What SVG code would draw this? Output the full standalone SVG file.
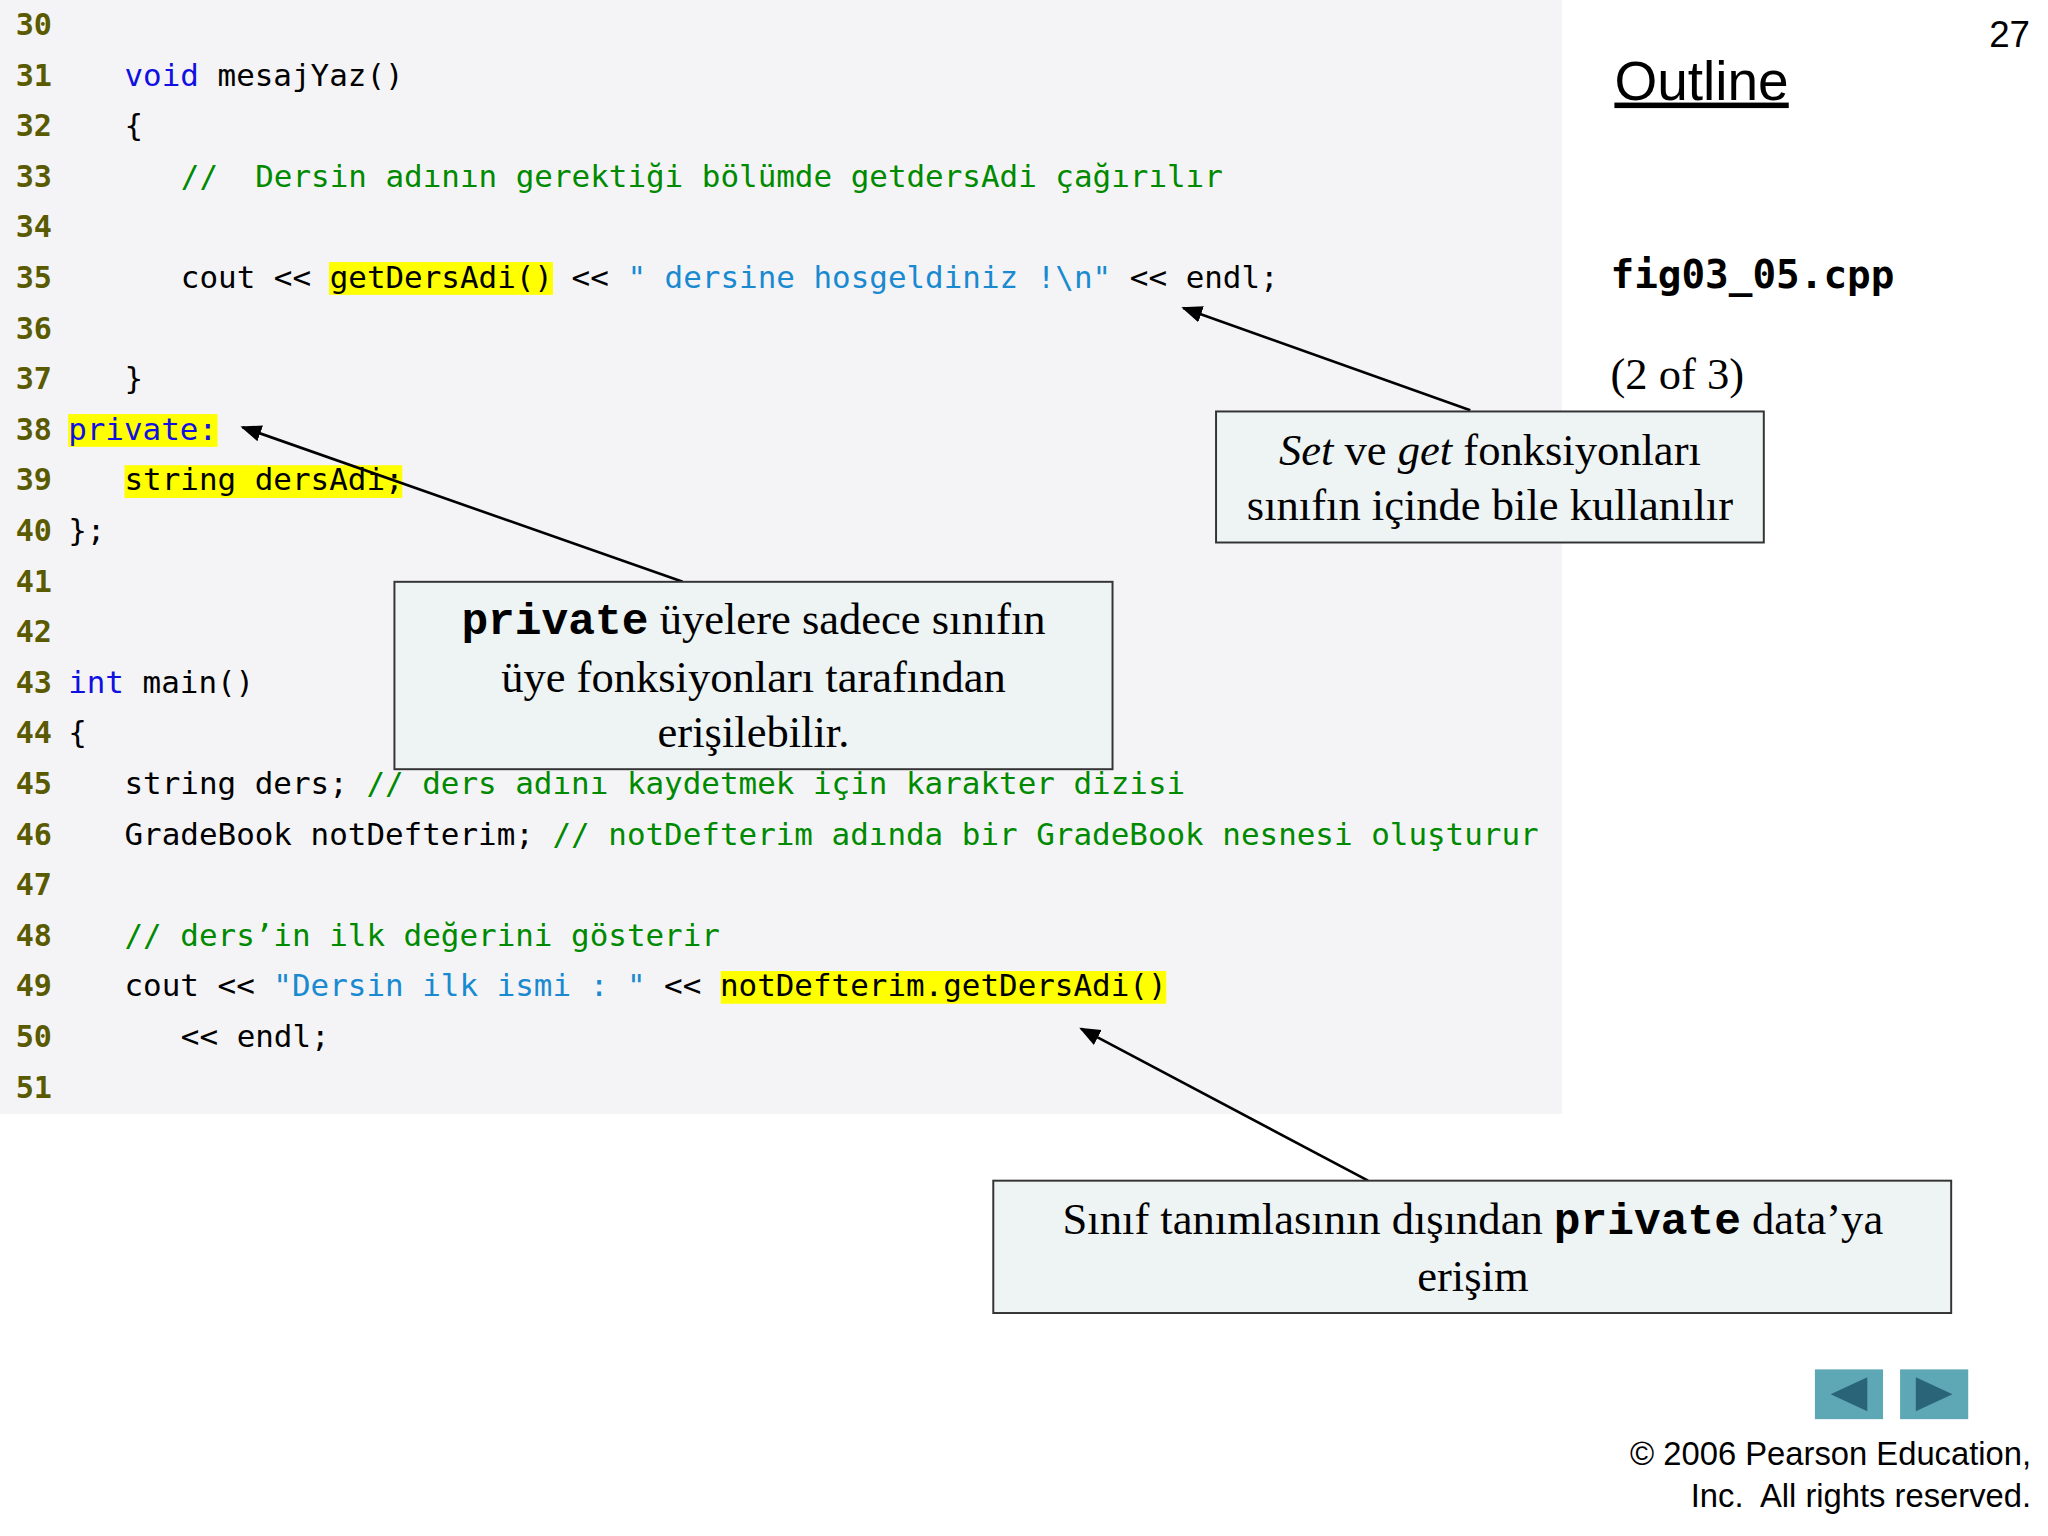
<svg xmlns="http://www.w3.org/2000/svg" width="2048" height="1536" viewBox="0 0 2048 1536">
<style>
.ln{font-family:"DejaVu Sans Mono",monospace;font-size:23px;fill:#5a5a00;font-weight:bold}
.c{font-family:"DejaVu Sans Mono",monospace;font-size:23.6px;fill:#000}
.kw{fill:#1010e0}.cm{fill:#008a00}.st{fill:#1a8ad0}
.hl{fill:#ffff00}
.box{fill:#eef3f3;stroke:#333;stroke-width:1.5}
.bt{font-family:"Liberation Serif",serif;font-size:34px;text-anchor:middle;fill:#000}
.cb{font-family:"Liberation Mono",monospace;font-weight:bold}
.ar{stroke:#000;stroke-width:2;fill:none}
</style>
<defs><marker id="ah" viewBox="0 0 10 10" refX="9" refY="5" markerWidth="8" markerHeight="8" orient="auto"><path d="M0,1 L10,5 L0,9 z" fill="#000"/></marker></defs>
<rect width="2048" height="1536" fill="#fff"/>
<g transform="scale(1.3104)">
<g id="code">
<rect x="0" y="0" width="1192" height="850" fill="#f4f4f7"/>
<rect class="hl" x="251" y="200" width="171" height="25"/>
<rect class="hl" x="52" y="316" width="114" height="25"/>
<rect class="hl" x="95" y="355" width="212" height="25"/>
<rect class="hl" x="550" y="741" width="340" height="25"/>
<g class="ln">
<text x="12" y="27">30</text><text x="12" y="66">31</text><text x="12" y="104">32</text><text x="12" y="143">33</text><text x="12" y="181">34</text><text x="12" y="220">35</text><text x="12" y="259">36</text><text x="12" y="297">37</text><text x="12" y="336">38</text><text x="12" y="374">39</text><text x="12" y="413">40</text><text x="12" y="452">41</text><text x="12" y="490">42</text><text x="12" y="529">43</text><text x="12" y="567">44</text><text x="12" y="606">45</text><text x="12" y="645">46</text><text x="12" y="683">47</text><text x="12" y="722">48</text><text x="12" y="760">49</text><text x="12" y="799">50</text><text x="12" y="838">51</text>
</g>
<g class="c">
<text x="95" y="66"><tspan class="kw">void</tspan> mesajYaz()</text>
<text x="95" y="104">{</text>
<text x="138" y="143" class="cm" xml:space="preserve">//  Dersin adının gerektiği bölümde getdersAdi çağırılır</text>
<text x="138" y="220">cout &lt;&lt; getDersAdi() &lt;&lt; <tspan class="st">" dersine hosgeldiniz !\n"</tspan> &lt;&lt; endl;</text>
<text x="95" y="297">}</text>
<text x="52" y="336" class="kw">private:</text>
<text x="95" y="374">string dersAdi;</text>
<text x="52" y="413">};</text>
<text x="52" y="529"><tspan class="kw">int</tspan> main()</text>
<text x="52" y="567">{</text>
<text x="95" y="606">string ders; <tspan class="cm">// ders adını kaydetmek için karakter dizisi</tspan></text>
<text x="95" y="645">GradeBook notDefterim; <tspan class="cm">// notDefterim adında bir GradeBook nesnesi oluşturur</tspan></text>
<text x="95" y="722" class="cm">// ders’in ilk değerini gösterir</text>
<text x="95" y="760">cout &lt;&lt; <tspan class="st">"Dersin ilk ismi : "</tspan> &lt;&lt; notDefterim.getDersAdi()</text>
<text x="138" y="799">&lt;&lt; endl;</text>
</g>
</g>
<g id="connectors">
<line class="ar" x1="1122" y1="313" x2="903" y2="235" marker-end="url(#ah)"/>
<line class="ar" x1="521" y1="444" x2="185" y2="326" marker-end="url(#ah)"/>
<line class="ar" x1="1044" y1="901" x2="825" y2="785" marker-end="url(#ah)"/>
</g>
<g id="note1">
<rect class="box" x="928" y="314" width="418" height="100"/>
<text class="bt" x="1137" y="355"><tspan font-style="italic">Set</tspan> ve <tspan font-style="italic">get</tspan> fonksiyonları</text>
<text class="bt" x="1137" y="397">sınıfın içinde bile kullanılır</text>
</g>
<g id="note2">
<rect class="box" x="301" y="444" width="548" height="143"/>
<text class="bt" x="575" y="484"><tspan class="cb">private</tspan> üyelere sadece sınıfın</text>
<text class="bt" x="575" y="528">üye fonksiyonları tarafından</text>
<text class="bt" x="575" y="570">erişilebilir.</text>
</g>
<g id="note3">
<rect class="box" x="758" y="901" width="731" height="101"/>
<text class="bt" x="1124" y="942">Sınıf tanımlasının dışından <tspan class="cb">private</tspan> data’ya</text>
<text class="bt" x="1124" y="985">erişim</text>
</g>
<g id="side">
<text x="1518" y="36" font-family="Liberation Sans,sans-serif" font-size="28">27</text>
<text x="1232" y="76" font-family="Liberation Sans,sans-serif" font-size="42" text-decoration="underline">Outline</text>
<text x="1229" y="220" font-family="DejaVu Sans Mono,monospace" font-size="30" font-weight="bold">fig03_05.cpp</text>
<text x="1229" y="297" font-family="Liberation Serif,serif" font-size="34">(2 of 3)</text>
<rect x="1385" y="1045" width="52" height="38" fill="#5ea8b6"/>
<rect x="1450" y="1045" width="52" height="38" fill="#5ea8b6"/>
<path d="M1397,1064 L1425,1051 L1425,1077 z" fill="#2a6478"/>
<path d="M1490,1064 L1462,1051 L1462,1077 z" fill="#2a6478"/>
<text x="1550" y="1118" text-anchor="end" font-family="Liberation Sans,sans-serif" font-size="25">© 2006 Pearson Education,</text>
<text x="1550" y="1150" text-anchor="end" font-family="Liberation Sans,sans-serif" font-size="25" xml:space="preserve">Inc.  All rights reserved.</text>
</g>
</g>
</svg>
